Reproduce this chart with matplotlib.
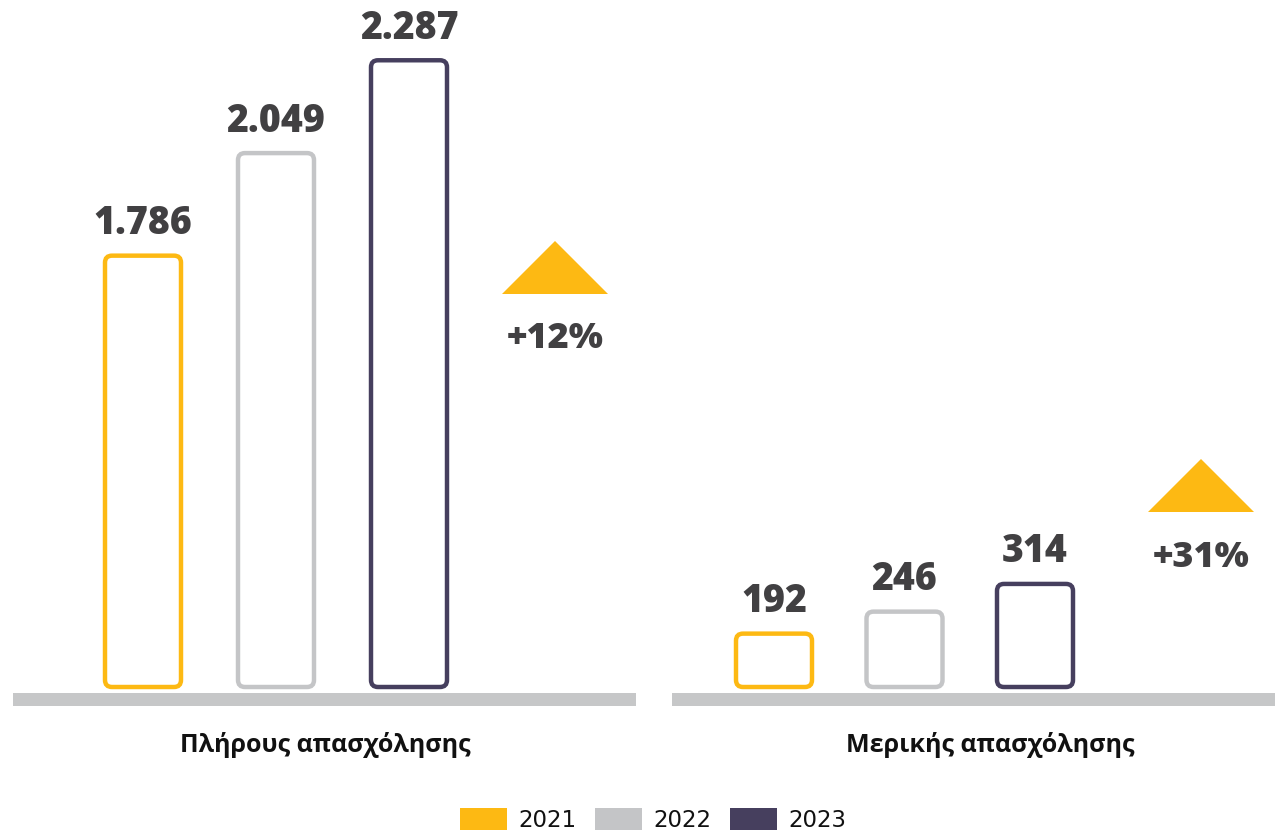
import numpy as np
import matplotlib
matplotlib.use("Agg")
import matplotlib.pyplot as plt
from matplotlib.patches import FancyBboxPatch, Polygon, Patch

W, H = 1276, 832
plt.rcParams['font.family'] = ['Open Sans', 'DejaVu Sans']

years = ['2021', '2022', '2023']
colors = ['#FDB913', '#C4C5C7', '#463F5E']

full_time = [1786, 2049, 2287]
part_time = [192, 246, 314]
full_labels = ['1.786', '2.049', '2.287']
part_labels = ['192', '246', '314']
categories = ['Πλήρους απασχόλησης', 'Μερικής απασχόλησης']
changes = ['+12%', '+31%']

text_col = '#414042'
base_col = '#C6C7C8'

fig = plt.figure(figsize=(W / 100, H / 100), dpi=100)


def fx(x):
    return x / W


def fy(y):
    return 1 - y / H


def panel(x0, x1, c0, step, floor, scale, values, labels):
    # axes runs from the top of the figure down to the bar bottoms (y=687px)
    ax = fig.add_axes([fx(x0), fy(687), (x1 - x0) / W, 687 / H])
    ax.set_xlim(-(c0 - x0) / step, (x1 - c0) / step)
    ax.set_ylim(floor, floor + 687 / scale)
    ax.axis('off')
    bw = 76 / step
    asp = step / scale
    for i, v in enumerate(values):
        box = FancyBboxPatch((i - bw / 2, floor), bw, v - floor,
                             boxstyle='round,pad=0,rounding_size=%f' % (7 / step),
                             mutation_aspect=asp, facecolor='white',
                             edgecolor=colors[i], linewidth=3.2, clip_on=False)
        ax.add_patch(box)
        ax.annotate(labels[i], (i, v), xytext=(0, 15.5), textcoords='offset points',
                    ha='center', va='baseline', fontsize=27, fontweight=800,
                    color=text_col, annotation_clip=False)
    # baseline
    fig.add_artist(plt.Rectangle((fx(x0), fy(706)), (x1 - x0) / W, 13 / H,
                                 transform=fig.transFigure, color=base_col, lw=0))
    return ax


ax1 = panel(13, 636, 143, 133, 680, 0.39, full_time, full_labels)
ax2 = panel(672, 1275, 774, 130.5, 61, 0.4074, part_time, part_labels)

# growth triangles and percentages
for (ax_, ay), txt, base in [((555, 241), changes[0], 348), ((1201, 459), changes[1], 567)]:
    tri = Polygon([(fx(ax_ - 53), fy(ay + 53)), (fx(ax_ + 53), fy(ay + 53)), (fx(ax_), fy(ay))],
                  closed=True, transform=fig.transFigure, facecolor='#FDB913', edgecolor='none')
    fig.add_artist(tri)
    fig.text(fx(ax_), fy(base), txt, ha='center', va='baseline', fontsize=26,
             fontweight=800, color=text_col)

fig.text(fx(325), fy(752), categories[0], ha='center', va='baseline', fontsize=18,
         fontweight='bold', color='#111111')
fig.text(fx(990), fy(752), categories[1], ha='center', va='baseline', fontsize=18,
         fontweight='bold', color='#111111')

handles = [Patch(facecolor=c, edgecolor='none') for c in colors]
leg = fig.legend(handles, years, loc='center', bbox_to_anchor=(fx(653), fy(820)), ncol=3,
                 frameon=False, handlelength=2.05, handleheight=1.09,
                 handletextpad=0.48, columnspacing=0.83, borderpad=0,
                 prop={'family': 'DejaVu Sans', 'size': 16.5})
for t in leg.get_texts():
    t.set_color('#111111')

fig.savefig('out.png', dpi=100, facecolor='white')
